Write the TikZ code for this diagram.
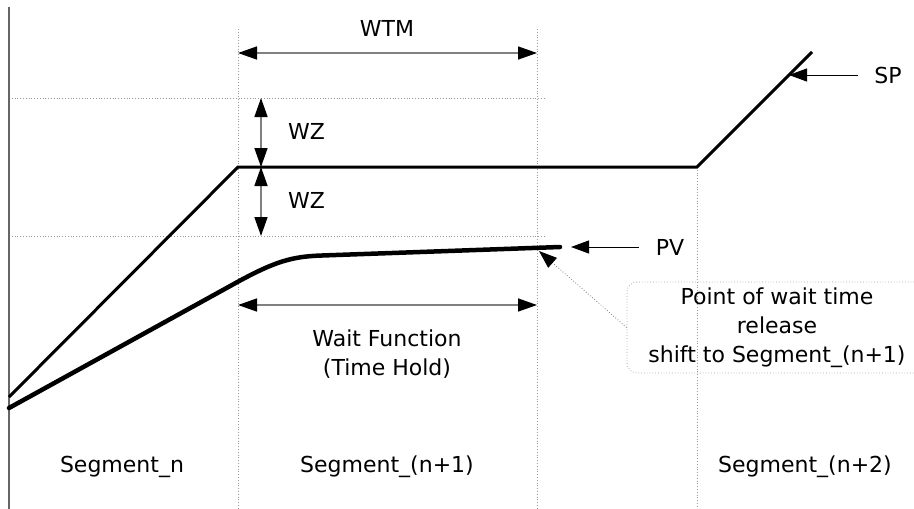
\documentclass[tikz,border=0pt]{standalone}
\usepackage{fontspec}
\setmainfont{DejaVu Sans}
\usetikzlibrary{arrows.meta}
\begin{document}
\begin{tikzpicture}[x=1pt,y=-1pt,
  lbl/.style={font=\fontsize{22}{29}\selectfont, inner sep=0pt, align=center},
  gridline/.style={dotted, draw=gray!80, line width=0.8pt},
  dimline/.style={draw=gray, line width=1.5pt,
    {Triangle[length=19pt,width=13pt,color=black]}-{Triangle[length=19pt,width=13pt,color=black]}},
  ptr/.style={line width=1pt, -{Triangle[length=18pt,width=13pt]}},
  callout/.style={draw=gray!70, dotted, line width=0.8pt, rounded corners=10pt,
    minimum width=300pt, minimum height=91pt, align=center,
    font=\fontsize{22}{29}\selectfont, inner sep=0pt},
]
\useasboundingbox (0,0) rectangle (914,509);

% axis and grid
\coordinate (axT) at (9,7);   \coordinate (axB) at (9,509);
\coordinate (v1T) at (238,29); \coordinate (v1B) at (238,509);
\coordinate (v2T) at (537,29); \coordinate (v2B) at (537,509);
\coordinate (v3T) at (697,167); \coordinate (v3B) at (697,509);
\coordinate (h1L) at (9,98);  \coordinate (h1R) at (546,98);
\coordinate (h2L) at (9,236); \coordinate (h2R) at (546,236);

\draw[gridline] (v1T) -- (v1B);
\draw[gridline] (v2T) -- (v2B);
\draw[gridline] (v3T) -- (v3B);
\draw[gridline] (h1L) -- (h1R);
\draw[gridline] (h2L) -- (h2R);
\draw[draw=gray!80!black, line width=1.5pt] (axT) -- (axB);

% SP line
\coordinate (sp0) at (9,397);
\coordinate (sp1) at (238,167);
\coordinate (sp2) at (697,167);
\coordinate (sp3) at (812,52);
\draw[line width=3pt] (sp0) -- (sp1) -- (sp2) -- (sp3);

% PV curve
\coordinate (pv0) at (9,408);
\coordinate (pv1) at (232,285);
\coordinate (pv2) at (322,255.5);
\coordinate (pv3) at (560,247);
\draw[line width=4.5pt, line cap=round] (pv0) -- (pv1) .. controls (275,261) and (292,256.5) .. (pv2) -- (pv3);

% WTM dimension
\coordinate (wtmL) at (238,53);
\coordinate (wtmR) at (537,53);
\draw[dimline] (wtmL) -- (wtmR);
\node[lbl] (wtm) at (387,28) {WTM};

% WZ dimensions
\coordinate (wz1) at (261,98);
\coordinate (wz2) at (261,167);
\coordinate (wz3) at (261,236);
\draw[dimline] (wz1) -- (wz2);
\draw[dimline] (wz2) -- (wz3);
\node[lbl, anchor=west] (wza) at (288,131) {WZ};
\node[lbl, anchor=west] (wzb) at (288,200) {WZ};

% Wait function dimension
\coordinate (wfL) at (238,305);
\coordinate (wfR) at (537,305);
\draw[dimline] (wfL) -- (wfR);
\node[lbl] (wf) at (387,354) {Wait Function\\(Time Hold)};

% SP pointer
\node[lbl] (sp) at (888,75) {SP};
\coordinate (sptip) at (789,75);
\draw[ptr] ([xshift=-16pt]sp.west) -- (sptip);

% PV pointer
\node[lbl] (pv) at (670,247) {PV};
\coordinate (pvtip) at (571,247);
\draw[ptr] ([xshift=-17pt]pv.west) -- (pvtip);

% callout
\begin{scope}
\clip (0,0) rectangle (914,509);
\node[callout] (call) at (777,327.5) {Point of wait time\\release\\shift to Segment\_(n+1)};
\end{scope}
\coordinate (reltip) at (539,251);
\draw[draw=gray, dotted, line width=0.8pt,
  -{Triangle[length=18pt,width=13pt,color=black]}] (call.west) -- (reltip);

% segment labels
\node[lbl] (s1) at (122,467) {Segment\_n};
\node[lbl] (s2) at (387,467) {Segment\_(n+1)};
\node[lbl] (s3) at (805,467) {Segment\_(n+2)};
\end{tikzpicture}
\end{document}
